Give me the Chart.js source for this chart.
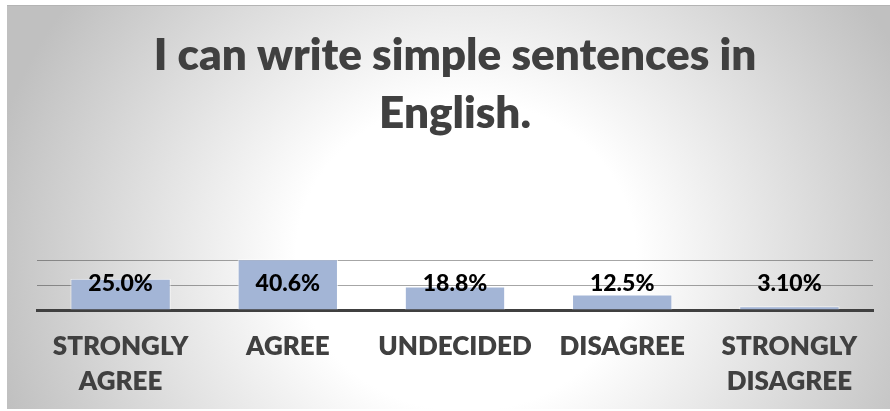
<!DOCTYPE html>
<html>
<head>
<meta charset="utf-8">
<script src="https://cdn.jsdelivr.net/npm/chart.js@4.4.1/dist/chart.umd.min.js"></script>
<style>
  html, body { margin: 0; padding: 0; background: #ffffff; }
  .frame {
    position: absolute; left: 7px; top: 5px; width: 883px; height: 404px;
    background: radial-gradient(ellipse 55% 110% at 52% 62%, #ffffff 35%, #c0c0c0 100%);
    border-top: 1px solid #b4b4b4;
    box-sizing: border-box;
  }
  canvas { position: absolute; left: 0; top: -1px; }
</style>
</head>
<body>
<div class="frame"><canvas id="chart0" width="883" height="404"></canvas></div>
<script>
const categories = [['STRONGLY', 'AGREE'], 'AGREE', 'UNDECIDED', 'DISAGREE', ['STRONGLY', 'DISAGREE']];
const percents = [25.0, 40.6, 18.8, 12.5, 3.1];
const decimals = [1, 1, 1, 1, 2];
const gridTicks = [0, 20, 40];
const titleLines = ['I can write simple sentences in', 'English.'];

const FONT = "Lato, 'Open Sans', sans-serif";

// value labels sit on one row just above the axis
const valueLabels = {
    id: 'valueLabels',
    afterDatasetsDraw(chart){
        const ctx = chart.ctx
        const meta = chart.getDatasetMeta(0)
        const y = chart.chartArea.bottom - 26
        ctx.save()
        ctx.font = `900 23px ${FONT}`
        ctx.fillStyle = '#000000'
        ctx.textAlign = 'center'
        ctx.textBaseline = 'middle'
        meta.data.forEach((bar, i) => {
            ctx.fillText(percents[i].toFixed(decimals[i]) + '%', bar.x, y)
        })
        ctx.restore()
    }
};

Chart.defaults.font.family = FONT;
new Chart('chart0', {
    type: 'bar',
    data: {
        labels: categories,
        datasets: [{
            data: percents,
            backgroundColor: '#a3b5d6',
            borderColor: 'rgba(255,255,255,0.7)',
            borderWidth: 1,
            barPercentage: 0.6,
            categoryPercentage: 1
        }]
    },
    options: {
        responsive: false,
        animation: false,
        layout: { padding: { left: 30, right: 17, top: 0, bottom: 0 } },
        plugins: {
            legend: { display: false },
            tooltip: { enabled: false },
            title: {
                display: true,
                text: titleLines,
                color: '#404040',
                font: { size: 44, weight: 800, lineHeight: 1.32 },
                padding: { top: 22, bottom: 115 }
            }
        },
        scales: {
            x: {
                afterFit(scale){ scale.height = 99 },
                grid: { display: false, drawTicks: false },
                border: { display: true, color: '#404040', width: 3 },
                ticks: {
                    color: '#404040',
                    padding: 19,
                    maxRotation: 0,
                    font: { size: 26, weight: 800, lineHeight: 1.35 }
                }
            },
            y: {
                min: 0,
                max: 41.5,
                z: 1,
                afterBuildTicks(scale){
                    scale.ticks = gridTicks.map(v => ({ value: v }))
                },
                grid: { color: 'rgba(0,0,0,0.35)', lineWidth: 1, drawTicks: false },
                border: { display: false },
                ticks: { display: false }
            }
        }
    },
    plugins: [valueLabels]
});
</script>
</body>
</html>
